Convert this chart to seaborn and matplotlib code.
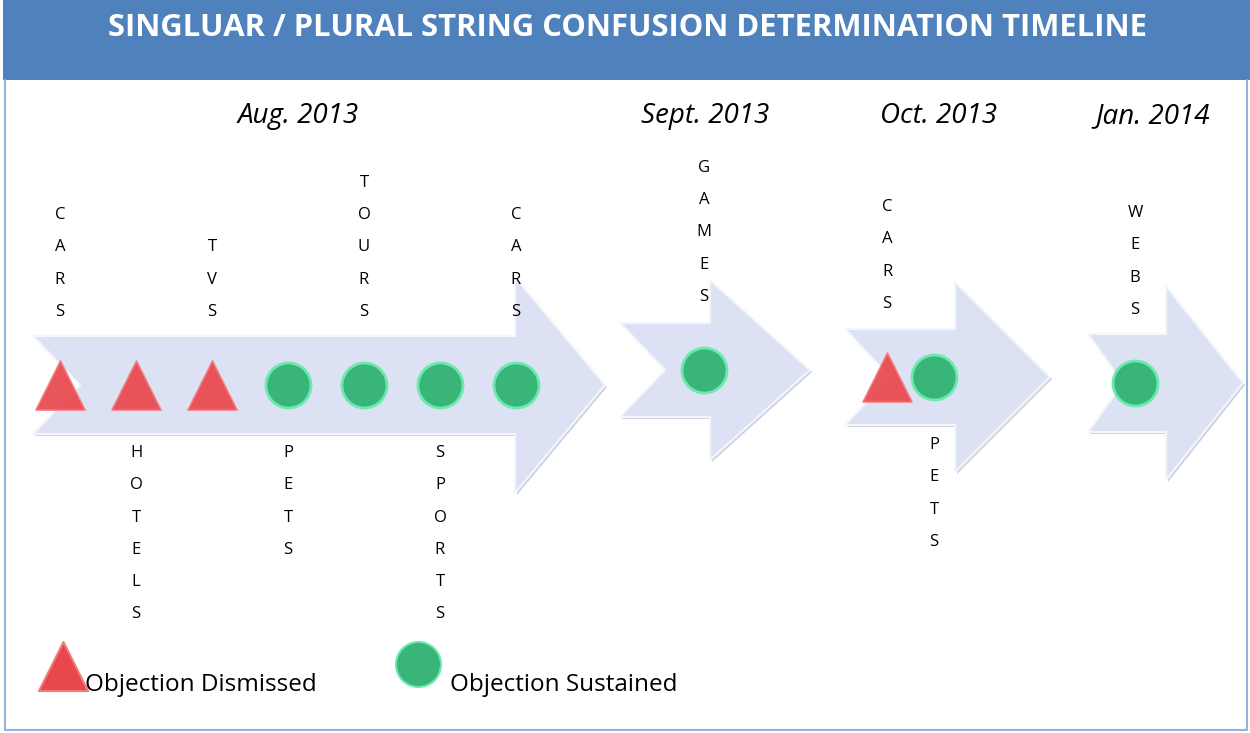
import matplotlib
matplotlib.use("Agg")
import matplotlib.pyplot as plt
from matplotlib.patches import Polygon, Rectangle
import seaborn as sns
import pandas as pd

# data
periods = ["Aug. 2013", "Sept. 2013", "Oct. 2013", "Jan. 2014"]
strings = [
    ["CARS", "HOTELS", "TVS", "PETS", "TOURS", "SPORTS", "CARS"],
    ["GAMES"],
    ["CARS", "PETS"],
    ["WEBS"],
]
outcomes = [
    ["Dismissed", "Dismissed", "Dismissed", "Sustained", "Sustained", "Sustained", "Sustained"],
    ["Sustained"],
    ["Dismissed", "Sustained"],
    ["Sustained"],
]
label_side = [
    ["up", "down", "up", "down", "up", "down", "up"],
    ["up"],
    ["up", "down"],
    ["up"],
]
title = "SINGLUAR / PLURAL STRING CONFUSION DETERMINATION TIMELINE"
legend_labels = {"Dismissed": "Objection Dismissed", "Sustained": "Objection Sustained"}

# layout (pixels): tail x, notch depth, head base x, tip x, center y, body half, head half
arrows = [
    (33, 47, 515, 605, 385, 49, 108),
    (620, 45, 710, 810, 370, 47, 90),
    (845, 45, 955, 1050, 377, 48, 95),
    (1088, 35, 1166, 1243, 383, 49, 97),
]
marker_start = [60, 704, 887, 1135]
marker_step = [76, 0, 47, 0]
period_label_x = [298, 705, 938, 1153]

rows = []
for p, (name, strs, outs, sides) in enumerate(zip(periods, strings, outcomes, label_side)):
    cy = arrows[p][4]
    for i, (s, o, sd) in enumerate(zip(strs, outs, sides)):
        rows.append({"period": name, "string": s, "outcome": o, "side": sd,
                     "x": marker_start[p] + i * marker_step[p], "y": cy})
df = pd.DataFrame(rows)

sns.set_style("white")
plt.rcParams["font.family"] = ["Open Sans", "DejaVu Sans"]
plt.rcParams["text.color"] = "black"

fig = plt.figure(figsize=(12.5, 7.33), dpi=100)
ax = fig.add_axes([0, 0, 1, 1])
ax.set_xlim(0, 1250)
ax.set_ylim(733, 0)
ax.axis("off")

# header and frame
ax.add_patch(Rectangle((3, 0), 1247, 80, facecolor="#4F81BD", edgecolor="none", zorder=1))
ax.plot([5, 5, 1247, 1247], [80, 730, 730, 80], color="#95B3D7", lw=1.5, zorder=1)
ax.text(628, 28, title, color="white", fontsize=22.3, fontweight="bold",
        ha="center", va="center", zorder=2)

# arrows
for (x0, notch, hb, tip, cy, bh, hh) in arrows:
    pts = [(x0, cy - bh), (hb, cy - bh), (hb, cy - hh), (tip, cy), (hb, cy + hh),
           (hb, cy + bh), (x0, cy + bh), (x0 + notch, cy)]
    shadow = [(x + 2, y + 2) for x, y in pts]
    ax.add_patch(Polygon(shadow, closed=True, facecolor="#CDD2DF", edgecolor="none", zorder=2))
    ax.add_patch(Polygon(pts, closed=True, facecolor="#DCE2F4", edgecolor="#F4F6FC",
                         lw=1.5, zorder=3))

for name, lx in zip(periods, period_label_x):
    ax.text(lx, 116, name, fontsize=20, style="italic", ha="center", va="center", zorder=4)

# markers
palette = {"Dismissed": "#E8474C", "Sustained": "#3AB57A"}
markers = {"Dismissed": "^", "Sustained": "o"}
tri = df[df.outcome == "Dismissed"]
circ = df[df.outcome == "Sustained"]
sns.scatterplot(data=tri, x="x", y="y", color=palette["Dismissed"], marker="^", s=1250,
                edgecolor="#F27B7E", linewidth=1.2, alpha=0.92, legend=False, ax=ax, zorder=5)
sns.scatterplot(data=circ, x="x", y="y", color=palette["Sustained"], marker="o", s=1050,
                edgecolor="#6DE8AE", linewidth=2, legend=False, ax=ax, zorder=5)

# vertical letter labels
spacing = 32.3
for _, r in df.iterrows():
    letters = list(r["string"])
    n = len(letters)
    if r["side"] == "up":
        ys = [r["y"] - 73 - (n - 1 - k) * spacing for k in range(n)]
    else:
        ys = [r["y"] + 68 + k * spacing for k in range(n)]
    for ch, yy in zip(letters, ys):
        ax.text(r["x"], yy, ch, fontsize=12, ha="center", va="center", zorder=6)

# legend
leg_pos = {"Dismissed": (63, 666, 85), "Sustained": (418, 664, 450)}
for key, (mx, my, tx) in leg_pos.items():
    ax.scatter([mx], [my], marker=markers[key], s=1250 if key == "Dismissed" else 1050,
               color=palette[key], edgecolors="#6DE8AE" if key == "Sustained" else "#F27B7E",
               linewidths=1.5, zorder=5)
    ax.text(tx, 685, legend_labels[key], fontsize=17.5, ha="left", va="center", zorder=6)

fig.savefig("out.png", dpi=100)
